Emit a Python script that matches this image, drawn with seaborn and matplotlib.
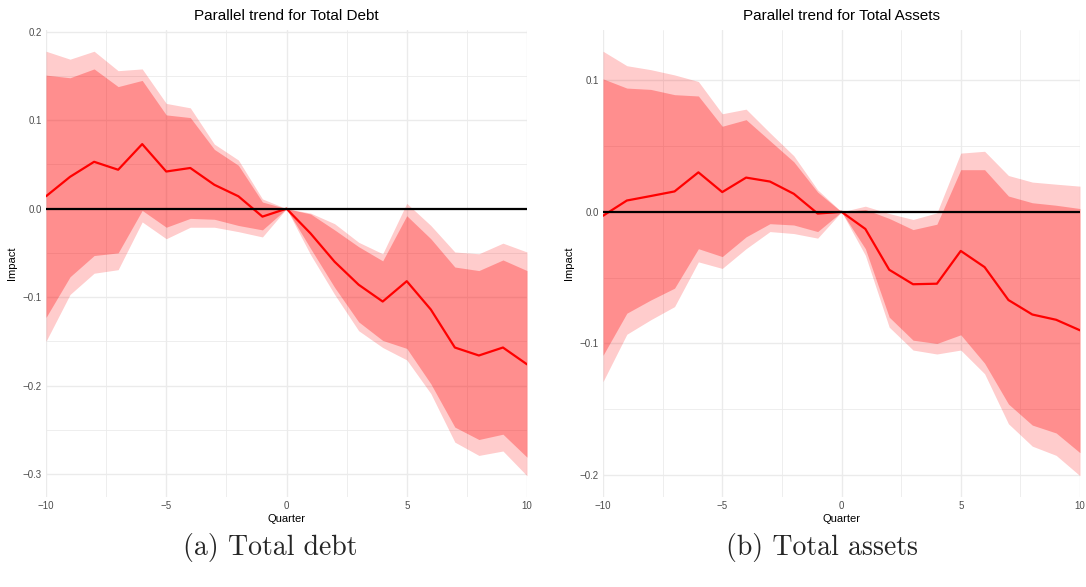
import matplotlib
matplotlib.use("Agg")
import matplotlib.pyplot as plt
import seaborn as sns
import pandas as pd
import numpy as np
from matplotlib.ticker import FixedLocator

# ---------------- data ----------------
quarters = list(range(-10, 11))

debt_coef = [0.014, 0.036, 0.053, 0.044, 0.073, 0.042, 0.046, 0.027, 0.014, -0.009, 0.0,
             -0.028, -0.060, -0.086, -0.105, -0.082, -0.114, -0.157, -0.166, -0.157, -0.176]
debt_hi_outer = [0.178, 0.169, 0.178, 0.156, 0.158, 0.119, 0.114, 0.073, 0.055, 0.011, 0.0,
                 -0.005, -0.017, -0.038, -0.051, 0.006, -0.019, -0.049, -0.051, -0.039, -0.049]
debt_hi_inner = [0.151, 0.148, 0.158, 0.138, 0.145, 0.106, 0.103, 0.067, 0.049, 0.0075, 0.0,
                 -0.006, -0.024, -0.043, -0.059, -0.008, -0.034, -0.066, -0.070, -0.058, -0.070]
debt_lo_inner = [-0.123, -0.077, -0.053, -0.050, -0.002, -0.021, -0.011, -0.012, -0.019, -0.024, 0.0,
                 -0.045, -0.089, -0.128, -0.149, -0.158, -0.198, -0.247, -0.261, -0.255, -0.281]
debt_lo_outer = [-0.150, -0.097, -0.073, -0.069, -0.015, -0.034, -0.021, -0.021, -0.026, -0.032, 0.0,
                 -0.052, -0.097, -0.138, -0.157, -0.171, -0.209, -0.264, -0.279, -0.274, -0.302]

assets_coef = [-0.003, 0.0086, 0.012, 0.0155, 0.030, 0.015, 0.026, 0.023, 0.0137, -0.0013, 0.0,
               -0.013, -0.044, -0.055, -0.0546, -0.0297, -0.042, -0.067, -0.078, -0.082, -0.090]
assets_hi_outer = [0.122, 0.111, 0.108, 0.104, 0.099, 0.0745, 0.078, 0.060, 0.0426, 0.0167, 0.0,
                   0.0043, -0.0013, -0.0058, -0.0008, 0.0446, 0.046, 0.0276, 0.0226, 0.021, 0.0195]
assets_hi_inner = [0.101, 0.094, 0.093, 0.089, 0.088, 0.065, 0.070, 0.054, 0.038, 0.015, 0.0,
                   0.0018, -0.005, -0.0135, -0.0094, 0.032, 0.032, 0.012, 0.0069, 0.005, 0.0025]
assets_lo_inner = [-0.109, -0.077, -0.067, -0.058, -0.028, -0.034, -0.019, -0.009, -0.010, -0.015, 0.0,
                   -0.028, -0.080, -0.0975, -0.100, -0.0934, -0.115, -0.146, -0.162, -0.168, -0.183]
assets_lo_outer = [-0.129, -0.093, -0.082, -0.072, -0.038, -0.043, -0.028, -0.015, -0.0165, -0.020, 0.0,
                   -0.033, -0.0876, -0.105, -0.108, -0.105, -0.123, -0.161, -0.178, -0.185, -0.2005]

x_ticks = [-10, -5, 0, 5, 10]
x_tick_labels = ["\u221210", "\u22125", "0", "5", "10"]
x_minor = [-7.5, -2.5, 2.5, 7.5]

debt_yticks = [-0.3, -0.2, -0.1, 0.0, 0.1, 0.2]
debt_yticklabels = ["\u22120.3", "\u22120.2", "\u22120.1", "0.0", "0.1", "0.2"]
debt_yminor = [-0.25, -0.15, -0.05, 0.05, 0.15]

assets_yticks = [-0.2, -0.1, 0.0, 0.1]
assets_yticklabels = ["\u22120.2", "\u22120.1", "0.0", "0.1"]
assets_yminor = [-0.15, -0.05, 0.05]

titles = ["Parallel trend for Total Debt", "Parallel trend for Total Assets"]
captions = ["(a) Total debt", "(b) Total assets"]

# ---------------- style ----------------
sns.set_theme(style="white")
plt.rcParams["font.family"] = ["Liberation Sans", "DejaVu Sans"]

fig = plt.figure(figsize=(10.86, 5.87), dpi=100)
ax1 = fig.add_axes([46 / 1086, 90 / 587, 481 / 1086, 467 / 587])
ax2 = fig.add_axes([603 / 1086, 90 / 587, 477 / 1086, 467 / 587])

panels = [
    (ax1, debt_coef, debt_hi_outer, debt_hi_inner, debt_lo_inner, debt_lo_outer,
     debt_yticks, debt_yticklabels, debt_yminor, 270),
    (ax2, assets_coef, assets_hi_outer, assets_hi_inner, assets_lo_inner, assets_lo_outer,
     assets_yticks, assets_yticklabels, assets_yminor, 822),
]

grid_col = "#EBEBEB"
for i, (ax, coef, hio, hii, loi, loo, yt, ytl, ymin, cap_x) in enumerate(panels):
    df = pd.DataFrame({"Quarter": quarters, "Impact": coef,
                       "hi_o": hio, "hi_i": hii, "lo_i": loi, "lo_o": loo})
    ax.set_axisbelow(True)
    ax.fill_between(df["Quarter"], df["lo_o"], df["hi_o"], color="red", alpha=0.2, lw=0)
    ax.fill_between(df["Quarter"], df["lo_i"], df["hi_i"], color="red", alpha=0.3, lw=0)
    sns.lineplot(data=df, x="Quarter", y="Impact", ax=ax, color="red", lw=1.6)
    ax.axhline(0, color="black", lw=1.6)

    lo = min(loo)
    hi = max(hio)
    pad = 0.05 * (hi - lo)
    ax.set_ylim(lo - pad, hi + pad)
    ax.set_xlim(-10, 10)

    ax.set_xticks(x_ticks)
    ax.set_xticklabels(x_tick_labels)
    ax.set_yticks(yt)
    ax.set_yticklabels(ytl)
    ax.xaxis.set_minor_locator(FixedLocator(x_minor))
    ax.yaxis.set_minor_locator(FixedLocator(ymin))
    ax.grid(which="major", color=grid_col, lw=1.0)
    ax.grid(which="minor", color=grid_col, lw=0.6)
    ax.tick_params(axis="both", which="both", length=0, labelsize=7, colors="#4D4D4D", pad=3)
    for s in ax.spines.values():
        s.set_visible(False)
    ax.set_xlabel("Quarter", fontsize=8, color="black", labelpad=2)
    ax.set_ylabel("Impact", fontsize=8, color="black", labelpad=4)
    ax.set_title(titles[i], fontsize=11, color="black", pad=7)

    fig.text(cap_x / 1086, 1 - 548 / 587, captions[i], ha="center", va="center",
             fontsize=20, family="cmr10")

fig.savefig("out.png", dpi=100)
